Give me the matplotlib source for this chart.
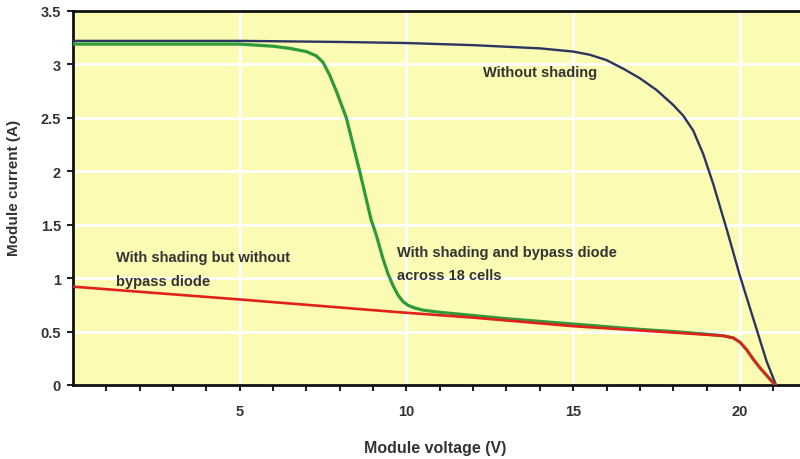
import numpy as np
import matplotlib
matplotlib.use("Agg")
import matplotlib.pyplot as plt

# I-V curves (voltage in V, current in A)
v_no_shade = [0, 2, 5, 8, 10, 12, 14, 15, 15.5, 16, 16.5, 17, 17.5, 18, 18.3, 18.6, 18.9, 19.2, 19.6, 20.0, 20.4, 20.8, 21.08]
i_no_shade = [3.22, 3.22, 3.22, 3.21, 3.20, 3.18, 3.15, 3.12, 3.09, 3.04, 2.96, 2.87, 2.76, 2.62, 2.52, 2.38, 2.16, 1.88, 1.46, 1.02, 0.62, 0.22, 0.0]

v_bypass = [0, 4, 5, 5.5, 6, 6.5, 7.0, 7.3, 7.5, 7.7, 7.9, 8.2, 8.6, 8.94, 9.1, 9.3, 9.45, 9.6, 9.75, 9.9, 10.05, 10.25, 10.5,
            11, 13, 15, 17, 18, 19, 19.5, 19.8, 20.0, 20.2, 20.4, 20.6, 20.8, 21.05]
i_bypass = [3.19, 3.19, 3.19, 3.18, 3.17, 3.15, 3.12, 3.08, 3.02, 2.90, 2.75, 2.50, 2.00, 1.55, 1.40, 1.18, 1.04, 0.93, 0.84, 0.78, 0.745, 0.72, 0.70,
            0.68, 0.62, 0.57, 0.52, 0.50, 0.475, 0.46, 0.44, 0.40, 0.33, 0.24, 0.16, 0.09, 0.0]

v_no_bypass = [0, 5, 9.8, 12, 15, 18, 19, 19.5, 19.8, 20.0, 20.2, 20.4, 20.6, 20.8, 21.05]
i_no_bypass = [0.92, 0.80, 0.68, 0.63, 0.55, 0.49, 0.47, 0.46, 0.44, 0.40, 0.33, 0.24, 0.16, 0.09, 0.0]

y_ticks = [0, 0.5, 1, 1.5, 2, 2.5, 3, 3.5]
y_labels = ["0", "0.5", "1", "1.5", "2", "2.5", "3", "3.5"]
x_ticks = [5, 10, 15, 20]

text_col = "#333333"
font = "Liberation Sans"

fig = plt.figure(figsize=(8, 4.6), dpi=100)
ax = fig.add_axes([0.091, 0.161, 0.909, 0.813])
ax.set_facecolor("#fbfbb4")

ax.set_xlim(0, 21.8)
ax.set_ylim(0, 3.5)

ax.grid(True, color="white", linewidth=2)
ax.set_axisbelow(True)

ax.plot(v_no_shade, i_no_shade, color="#2a3560", linewidth=1.7, zorder=3)
ax.plot(v_bypass, i_bypass, color="#2e9a3a", linewidth=2.3, zorder=3)
ax.plot(v_no_bypass, i_no_bypass, color="#e0201b", linewidth=1.9, zorder=4)

tfont = dict(fontsize=10.5, fontweight="bold", color=text_col, family=font)
ax.text(12.3, 2.93, "Without shading", va="center", ha="left", **tfont)
ax.text(9.73, 1.24, "With shading and bypass diode", va="center", ha="left", **tfont)
ax.text(9.73, 1.03, "across 18 cells", va="center", ha="left", **tfont)
ax.text(1.29, 1.20, "With shading but without", va="center", ha="left", **tfont)
ax.text(1.29, 0.97, "bypass diode", va="center", ha="left", **tfont)

ax.set_yticks(y_ticks)
ax.set_yticklabels(y_labels)
ax.set_xticks(x_ticks)
ax.set_xticks(np.arange(1, 22), minor=True)
ax.tick_params(axis="both", which="both", direction="out", length=4.5, width=1.5,
               colors="#222222", labelcolor=text_col, labelsize=10.5)
ax.tick_params(axis="x", which="major", pad=9)
ax.tick_params(axis="y", which="major", pad=4)
for lab in ax.get_xticklabels() + ax.get_yticklabels():
    lab.set_fontweight("bold")
    lab.set_family(font)

for side in ["left", "top", "bottom"]:
    ax.spines[side].set_linewidth(2)
    ax.spines[side].set_color("#111111")
ax.spines["right"].set_visible(False)

ax.set_xlabel("Module voltage (V)", fontsize=11.5, fontweight="bold", color=text_col, family=font)
ax.set_ylabel("Module current (A)", fontsize=11, fontweight="bold", color=text_col, family=font)
ax.xaxis.label.set_va("center")
ax.yaxis.label.set_va("center")
ax.xaxis.set_label_coords(0.499, -0.166)
ax.yaxis.set_label_coords(-0.081, 0.529)

fig.savefig("out.png", dpi=100)
